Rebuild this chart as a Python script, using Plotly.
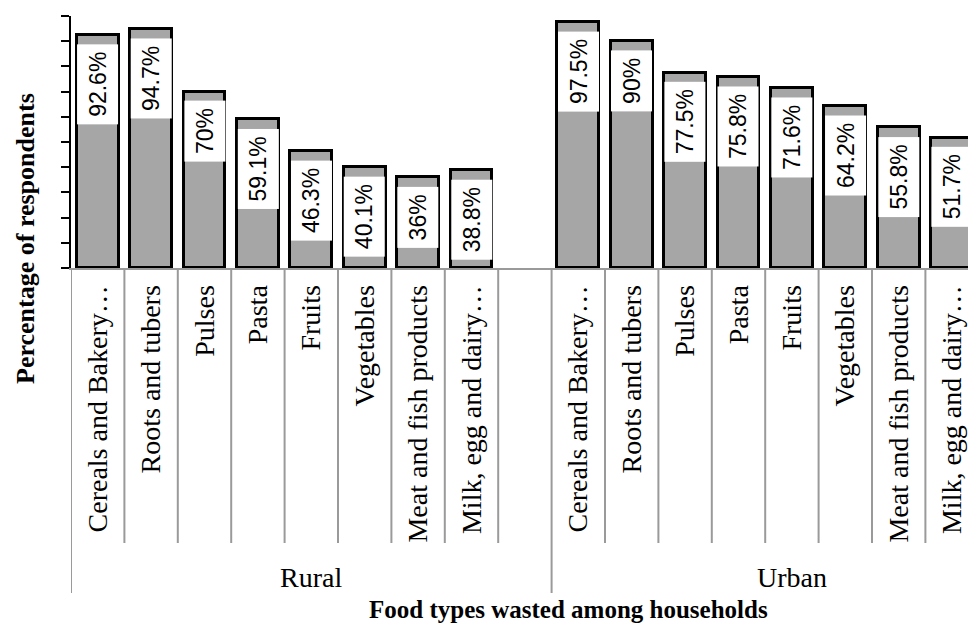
import plotly.graph_objects as go

categories = ["Cereals and Bakery…", "Roots and tubers", "Pulses", "Pasta", "Fruits",
              "Vegetables", "Meat and fish products", "Milk, egg and dairy…"]
groups = ["Rural", "Urban"]
rural = [92.6, 94.7, 70, 59.1, 46.3, 40.1, 36, 38.8]
urban = [97.5, 90, 77.5, 75.8, 71.6, 64.2, 55.8, 51.7]
series = [rural, urban]
y_tickvals = list(range(0, 101, 10))

SERIF = "Times New Roman, Liberation Serif, Times, serif"
SANS = "Liberation Sans, Arial, sans-serif"

W, H = 968, 630
L, T, B = 71, 16, 268          # plot area pixels
plot_h = B - T
slot = len(categories) + 1      # each group has one blank slot at its end

xs, ys, labels = [], [], []
for g, vals in enumerate(series):
    for i, v in enumerate(vals):
        xs.append(g * slot + i)
        ys.append(v)
        labels.append(categories[i])

px_per_unit = 53.4
x_max = -0.5 + (W - L) / px_per_unit

def py(ypix):
    return (B - ypix) / plot_h

fig = go.Figure()
fig.add_trace(go.Bar(
    x=xs, y=ys, width=0.78,
    marker=dict(color="#a6a6a6", line=dict(color="black", width=3)),
    hoverinfo="skip", showlegend=False,
))

annotations = []
for x, v in zip(xs, ys):
    annotations.append(dict(
        x=x, y=v, xref="x", yref="y", text=f"{v:g}%", showarrow=False,
        textangle=-90, xanchor="center", yanchor="top", yshift=-9,
        bgcolor="white", borderpad=7,
        font=dict(family=SANS, size=23, color="black"),
    ))

for g, name in enumerate(groups):
    annotations.append(dict(
        x=g * slot + (slot - 1) / 2, y=py(577), xref="x", yref="paper", text=name,
        showarrow=False, xanchor="center", yanchor="middle",
        font=dict(family=SERIF, size=28, color="black"),
    ))

annotations.append(dict(
    x=(568 - L) / (W - L), y=py(609), xref="paper", yref="paper",
    text="<b>Food types wasted among households</b>", showarrow=False,
    xanchor="center", yanchor="middle",
    font=dict(family=SERIF, size=25, color="black"),
))
annotations.append(dict(
    x=(25 - L) / (W - L), y=py(239), xref="paper", yref="paper",
    text="<b>Percentage of respondents</b>", showarrow=False, textangle=-90,
    xanchor="center", yanchor="middle",
    font=dict(family=SERIF, size=26, color="black"),
))

shapes = []
for g in range(len(groups) + 1):
    shapes.append(dict(type="line", xref="x", yref="paper",
                       x0=g * slot - 0.5, x1=g * slot - 0.5, y0=0, y1=py(593),
                       line=dict(color="#9a9a9a", width=2)))
    if g < len(groups):
        for k in range(1, slot):
            xb = g * slot + k - 0.5
            shapes.append(dict(type="line", xref="x", yref="paper",
                               x0=xb, x1=xb, y0=0, y1=py(543),
                               line=dict(color="#9a9a9a", width=2)))

fig.update_layout(
    width=W, height=H,
    margin=dict(l=L, r=0, t=T, b=H - B, pad=0),
    paper_bgcolor="white", plot_bgcolor="white",
    annotations=annotations, shapes=shapes,
    bargap=0,
    xaxis=dict(
        range=[-0.5, x_max], tickmode="array", tickvals=xs, ticktext=labels,
        tickangle=-90, ticks="outside", ticklen=4, tickcolor="rgba(0,0,0,0)",
        tickfont=dict(family=SERIF, size=28, color="black"),
        showline=True, linecolor="#9a9a9a", linewidth=2,
        showgrid=False, zeroline=False, fixedrange=True,
    ),
    yaxis=dict(
        range=[0, 100], tickmode="array", tickvals=y_tickvals, showticklabels=False,
        ticks="outside", ticklen=8, tickwidth=2, tickcolor="black",
        showline=True, linecolor="black", linewidth=2,
        showgrid=False, zeroline=False, fixedrange=True,
    ),
)

fig.write_html("out.html", config={"displayModeBar": False})
